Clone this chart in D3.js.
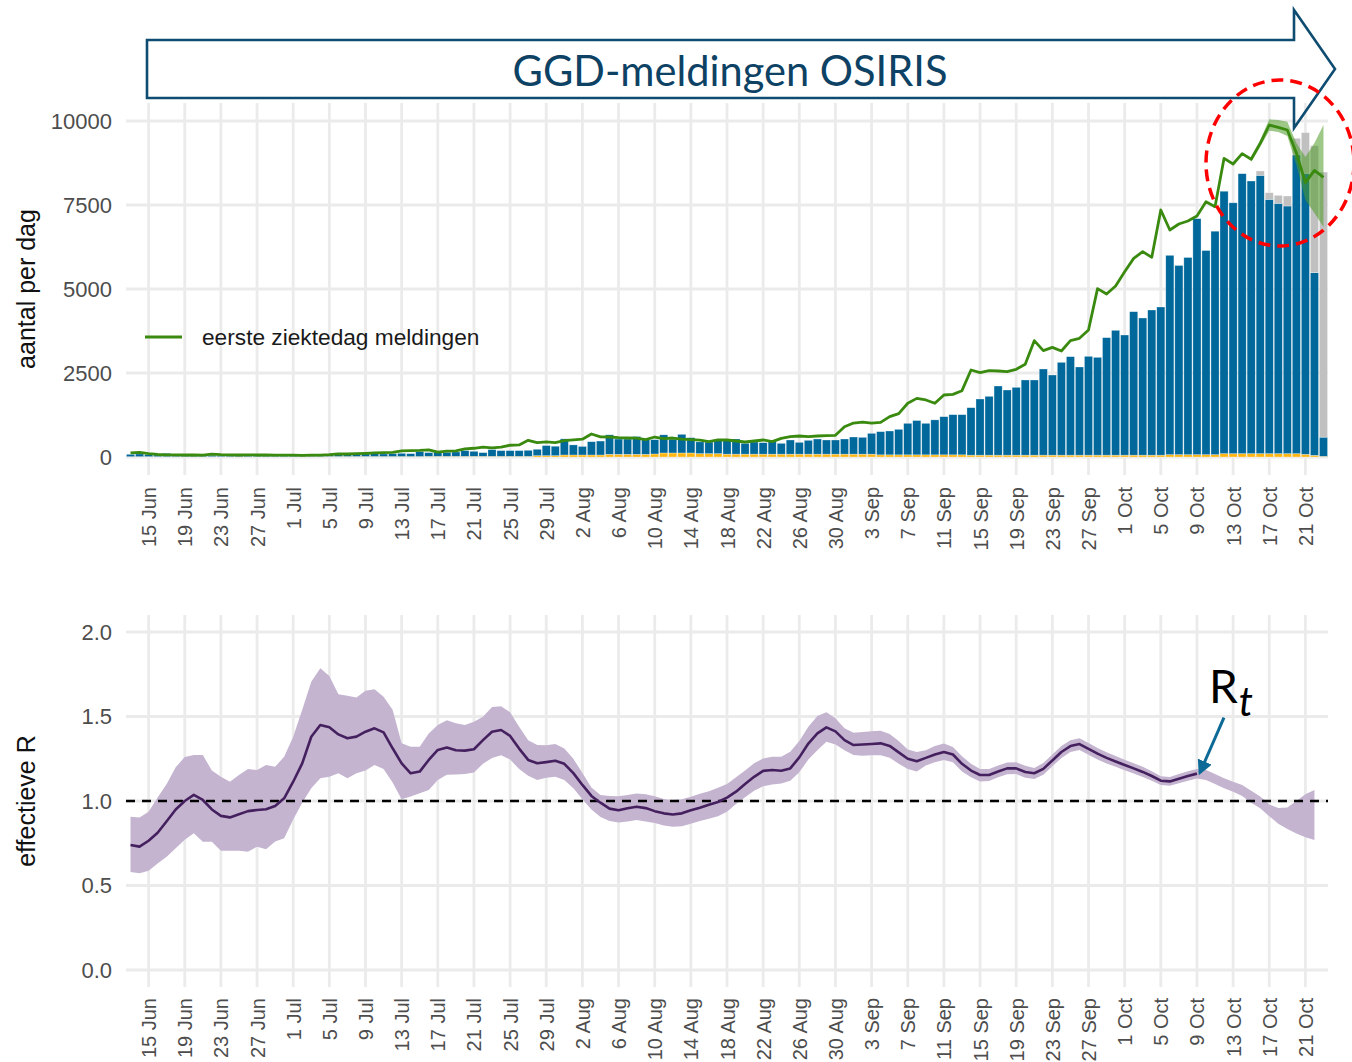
<!DOCTYPE html>
<html><head><meta charset="utf-8">
<script src="https://cdn.jsdelivr.net/npm/d3@7"></script>
<style>
html,body{margin:0;padding:0;background:#fff;}
svg{display:block;}
</style></head><body>
<svg id="chart" width="1352" height="1062"></svg>
<script>
// ---------------- DATA ----------------
const firstDay = "2020-06-13";           // first bar / first R value
const tickLabels = ["15 Jun","19 Jun","23 Jun","27 Jun","1 Jul","5 Jul","9 Jul","13 Jul","17 Jul","21 Jul","25 Jul","29 Jul","2 Aug","6 Aug","10 Aug","14 Aug","18 Aug","22 Aug","26 Aug","30 Aug","3 Sep","7 Sep","11 Sep","15 Sep","19 Sep","23 Sep","27 Sep","1 Oct","5 Oct","9 Oct","13 Oct","17 Oct","21 Oct"];
const yTicksTop = [0, 2500, 5000, 7500, 10000];
const yTicksR = [0, 0.5, 1, 1.5, 2];

// daily reported cases, 13 Jun .. 23 Oct (stacked segments)
const geel = [
 10,10,10,10,10,10,10,10,10,10,
 10,10,10,10,10,10,10,10,10,15,
 15,15,15,15,15,15,15,15,15,15,
 15,15,15,20,20,20,20,20,20,20,
 20,20,20,20,20,40,40,40,60,60,
 60,60,60,80,80,80,80,80,90,120,
 120,120,120,100,100,100,85,85,85,85,
 85,85,85,85,85,85,85,85,85,85,
 85,85,85,65,65,65,65,65,65,65,
 65,65,65,55,55,55,55,55,55,55,
 55,55,55,55,55,55,55,55,55,55,
 55,55,55,55,55,70,70,70,70,70,
 70,100,100,100,100,100,100,100,100,100,
 80,50,20];
const blauw = [
 70,80,60,50,100,40,40,40,45,40,
 35,40,35,40,35,40,30,30,30,30,
 35,45,55,65,70,75,80,85,75,85,
 95,85,145,110,130,120,130,170,150,110,
 200,170,170,170,180,190,300,280,480,300,
 255,395,415,580,455,455,530,435,425,540,
 410,555,455,350,346,406,441,451,322,361,
 341,391,322,421,351,411,451,421,421,451,
 510,500,619,689,709,758,937,1020,937,1040,
 1135,1195,1195,1413,1671,1751,2058,1939,2018,2237,
 2237,2564,2385,2762,2931,2624,2941,2911,3497,3715,
 3576,4270,4082,4320,4409,5932,5630,5868,7023,6075,
 6650,7810,7465,8332,8114,8283,7569,7450,7370,8890,
 8360,5435,570];
const grijs = [
 0,0,0,0,0,0,0,0,0,0,
 0,0,0,0,0,0,0,0,0,0,
 0,0,0,0,0,0,0,0,0,0,
 0,0,0,0,0,0,0,0,0,0,
 0,0,0,0,0,0,0,0,0,0,
 0,0,0,0,0,0,0,0,0,0,
 0,0,0,0,0,0,0,0,0,0,
 0,0,0,0,0,0,0,0,0,0,
 0,0,0,0,0,0,0,0,0,0,
 0,0,0,0,0,0,0,0,0,0,
 0,0,0,0,0,0,0,0,0,0,
 0,0,0,0,0,0,0,0,0,0,
 0,0,0,0,0,130,197,238,298,495,
 1215,3777,7890];
// eerste ziektedag meldingen (green line)
const ziektedag = [
 120,140,100,75,65,65,60,60,55,85,
 70,65,60,65,60,60,55,55,55,50,
 55,55,70,95,90,100,110,120,130,140,
 185,190,195,210,145,175,185,240,260,295,
 270,295,350,360,495,425,450,430,488,510,
 530,685,600,595,575,565,560,520,595,545,
 565,530,520,500,455,506,506,476,446,476,
 506,456,556,605,625,605,625,635,645,900,
 1010,1040,1010,1030,1200,1290,1600,1745,1697,1598,
 1845,1865,1974,2589,2510,2569,2559,2540,2609,2758,
 3462,3165,3264,3155,3462,3532,3780,5010,4851,5089,
 5516,5912,6111,5942,7351,6756,6935,7024,7173,7599,
 7450,8889,8720,9030,8860,9335,9881,9812,9732,9050,
 8164,8530,8323];
// uncertainty band of the green line, 15 Oct .. 23 Oct (last 9 days)
const bandStart = "2020-10-15";
const ziektedagLo = [8780,9226,9711,9672,9554,8700,7649,7262,6845];
const ziektedagHi = [8940,9435,10050,10030,9979,9345,8929,9345,9881];

// effective R, 13 Jun .. 22 Oct
const rMid = [
 0.74,0.73,0.765,0.812,0.88,0.95,1.0,1.036,1.006,0.95,
 0.912,0.903,0.921,0.94,0.947,0.951,0.97,1.016,1.114,1.223,
 1.38,1.45,1.436,1.394,1.371,1.381,1.41,1.43,1.406,1.312,
 1.223,1.164,1.174,1.243,1.302,1.316,1.30,1.298,1.306,1.36,
 1.41,1.42,1.385,1.31,1.243,1.223,1.23,1.238,1.22,1.165,
 1.095,1.03,0.99,0.955,0.945,0.957,0.966,0.958,0.94,0.927,
 0.92,0.927,0.945,0.96,0.978,0.994,1.02,1.055,1.10,1.143,
 1.178,1.183,1.179,1.193,1.258,1.34,1.40,1.436,1.412,1.36,
 1.331,1.334,1.337,1.341,1.326,1.288,1.25,1.235,1.255,1.275,
 1.29,1.275,1.22,1.18,1.154,1.154,1.175,1.193,1.193,1.172,
 1.164,1.19,1.24,1.29,1.325,1.337,1.308,1.28,1.255,1.234,
 1.213,1.193,1.172,1.148,1.12,1.116,1.132,1.148,1.162,null,
 null,null,null,null,null,null,null,null,null,null,
 null,null];
const rHi = [
 0.907,0.903,0.937,1.02,1.10,1.20,1.26,1.272,1.272,1.18,
 1.144,1.114,1.154,1.19,1.183,1.213,1.203,1.262,1.38,1.54,
 1.706,1.785,1.74,1.631,1.623,1.613,1.653,1.661,1.617,1.54,
 1.341,1.321,1.321,1.40,1.45,1.478,1.46,1.45,1.469,1.499,
 1.556,1.56,1.525,1.44,1.36,1.331,1.33,1.338,1.31,1.25,
 1.165,1.08,1.036,1.03,1.028,1.035,1.045,1.04,1.028,1.012,
 1.006,1.01,1.025,1.043,1.058,1.078,1.10,1.14,1.18,1.224,
 1.252,1.262,1.262,1.292,1.355,1.44,1.503,1.525,1.49,1.43,
 1.404,1.408,1.413,1.415,1.397,1.355,1.305,1.29,1.30,1.325,
 1.34,1.32,1.265,1.22,1.19,1.19,1.21,1.228,1.23,1.208,
 1.196,1.225,1.275,1.325,1.36,1.372,1.343,1.314,1.288,1.266,
 1.244,1.223,1.202,1.176,1.146,1.142,1.16,1.176,1.19,1.183,
 1.16,1.135,1.114,1.095,1.06,1.026,0.98,0.958,0.962,1.0,
 1.04,1.065];
const rLo = [
 0.58,0.572,0.588,0.63,0.67,0.72,0.77,0.809,0.759,0.759,
 0.706,0.706,0.705,0.70,0.73,0.714,0.76,0.78,0.89,0.99,
 1.075,1.134,1.144,1.164,1.134,1.164,1.18,1.213,1.19,1.11,
 1.01,1.026,1.046,1.065,1.124,1.155,1.157,1.16,1.168,1.22,
 1.255,1.27,1.245,1.19,1.15,1.125,1.138,1.143,1.125,1.075,
 1.01,0.95,0.905,0.882,0.873,0.879,0.888,0.879,0.87,0.855,
 0.847,0.85,0.865,0.882,0.895,0.91,0.937,0.982,1.022,1.06,
 1.087,1.098,1.104,1.12,1.17,1.245,1.30,1.35,1.335,1.30,
 1.272,1.268,1.27,1.27,1.256,1.22,1.19,1.175,1.21,1.23,
 1.243,1.23,1.175,1.14,1.115,1.118,1.14,1.158,1.16,1.138,
 1.13,1.155,1.205,1.255,1.29,1.302,1.273,1.246,1.222,1.202,
 1.182,1.163,1.142,1.12,1.094,1.09,1.105,1.12,1.133,1.124,
 1.10,1.075,1.055,1.03,0.99,0.957,0.91,0.865,0.835,0.808,
 0.785,0.769];

// ---------------- CHART ----------------
const FONT = "'Liberation Sans', Arial, Helvetica, sans-serif";
const svg = d3.select("#chart");
const parseISO = d3.utcParse("%Y-%m-%d");
const parseTick = d3.utcParse("%d %b %Y");
const start = parseISO(firstDay);
const days = blauw.map((_, i) => d3.utcDay.offset(start, i));
const tickDates = tickLabels.map(l => parseTick(l + " 2020"));

const x = d3.scaleUtc()
  .domain([new Date(Date.UTC(2020,5,12,12)), new Date(Date.UTC(2020,9,23,12))])
  .range([126, 1328]);
const dayW = x(d3.utcDay.offset(start,1)) - x(start);
const yTop = d3.scaleLinear().domain([0, 10000]).range([457, 121]);
const yR = d3.scaleLinear().domain([0, 2]).range([970, 632]);

const GRID = "#ebebeb";
function panel(yScale, yTicks, top, bottom, fmt, labelY) {
  const g = svg.append("g");
  g.selectAll(".vg").data(tickDates).join("line")
    .attr("x1", d => x(d)).attr("x2", d => x(d))
    .attr("y1", top).attr("y2", bottom)
    .attr("stroke", GRID).attr("stroke-width", 2.8);
  g.selectAll(".hg").data(yTicks).join("line")
    .attr("x1", x.range()[0]).attr("x2", x.range()[1])
    .attr("y1", d => yScale(d)).attr("y2", d => yScale(d))
    .attr("stroke", GRID).attr("stroke-width", 2.8);
  // y axis
  const ya = svg.append("g").attr("transform", "translate(126,0)")
    .call(d3.axisLeft(yScale).tickValues(yTicks).tickSize(0).tickPadding(14).tickFormat(fmt));
  ya.select(".domain").remove();
  ya.selectAll("text").attr("fill", "#4d4d4d").style("font-family", FONT).style("font-size", "22px");
  // x axis
  const xa = svg.append("g").attr("transform", `translate(0,${labelY})`)
    .call(d3.axisBottom(x).tickValues(tickDates).tickSize(0).tickFormat((d, i) => tickLabels[i]));
  xa.select(".domain").remove();
  xa.selectAll("text")
    .attr("x", 0).attr("y", 0).attr("dy", "0.35em")
    .attr("transform", "rotate(-90)")
    .style("text-anchor", "end")
    .attr("fill", "#4d4d4d").style("font-family", FONT).style("font-size", "20px");
  return g;
}

// ---- top panel ----
panel(yTop, yTicksTop, 103, 475, d3.format("d"), 487);

const table = days.map((d, i) => ({date: d, geel: geel[i], blauw: blauw[i], grijs: grijs[i]}));
const stackKeys = ["geel", "blauw", "grijs"];
const barColor = {geel: "#ffb612", blauw: "#01689b", grijs: "#c0c0c0"};
const stacked = d3.stack().keys(stackKeys)(table);
const bw = dayW * 0.9;
svg.append("g").selectAll("g").data(stacked).join("g")
  .attr("fill", s => barColor[s.key])
  .selectAll("rect").data(s => s.filter(d => d[1] > d[0])).join("rect")
  .attr("x", d => x(d.data.date) - bw / 2)
  .attr("width", bw)
  .attr("y", d => yTop(d[1]))
  .attr("height", d => yTop(d[0]) - yTop(d[1]))
  .attr("stroke", "#ffffff").attr("stroke-width", 0.6).attr("stroke-opacity", 0.5);

const bStart = parseISO(bandStart);
const bandData = ziektedagLo.map((lo, i) => ({date: d3.utcDay.offset(bStart, i), lo, hi: ziektedagHi[i]}));
svg.append("path").datum(bandData)
  .attr("d", d3.area().x(d => x(d.date)).y0(d => yTop(d.lo)).y1(d => yTop(d.hi)))
  .attr("fill", "#4f9a26").attr("fill-opacity", 0.55);

svg.append("path").datum(ziektedag.map((v, i) => ({date: days[i], v})))
  .attr("d", d3.line().x(d => x(d.date)).y(d => yTop(d.v)))
  .attr("fill", "none").attr("stroke", "#3a8a10").attr("stroke-width", 2.8)
  .attr("stroke-linejoin", "round");

// legend
svg.append("line").attr("x1", 145).attr("x2", 182).attr("y1", 337).attr("y2", 337)
  .attr("stroke", "#3a8a10").attr("stroke-width", 3);
svg.append("text").attr("x", 202).attr("y", 345).text("eerste ziektedag meldingen")
  .attr("fill", "#1a1a1a").style("font-family", FONT).style("font-size", "22.7px");

svg.append("text").attr("transform", "translate(35,289) rotate(-90)")
  .attr("text-anchor", "middle").text("aantal per dag")
  .attr("fill", "#111").style("font-family", FONT).style("font-size", "25px");

// ---- bottom panel ----
panel(yR, yTicksR, 615, 987, d3.format(".1f"), 998);

const rData = rLo.map((lo, i) => ({date: d3.utcDay.offset(start, i), lo, hi: rHi[i], m: rMid[i]}));
svg.append("path").datum(rData)
  .attr("d", d3.area().x(d => x(d.date)).y0(d => yR(d.lo)).y1(d => yR(d.hi)))
  .attr("fill", "#c4b4d0");
svg.append("line")
  .attr("x1", x.range()[0]).attr("x2", x.range()[1])
  .attr("y1", yR(1)).attr("y2", yR(1))
  .attr("stroke", "#000").attr("stroke-width", 2.3).attr("stroke-dasharray", "9,7");
svg.append("path").datum(rData.filter(d => d.m != null))
  .attr("d", d3.line().x(d => x(d.date)).y(d => yR(d.m)))
  .attr("fill", "none").attr("stroke", "#45205f").attr("stroke-width", 2.6)
  .attr("stroke-linejoin", "round");

svg.append("text").attr("transform", "translate(35,801) rotate(-90)")
  .attr("text-anchor", "middle").text("effectieve R")
  .attr("fill", "#111").style("font-family", FONT).style("font-size", "25px");

// ---- annotations ----
const defs = svg.append("defs");
defs.append("marker").attr("id", "ah").attr("viewBox", "0 0 10 10")
  .attr("refX", 8).attr("refY", 5).attr("markerWidth", 5).attr("markerHeight", 5)
  .attr("orient", "auto-start-reverse")
  .append("path").attr("d", "M0,0 L10,5 L0,10 Z").attr("fill", "#0d6a97");

const lastR = rData.filter(d => d.m != null).slice(-1)[0];
const tipX = x(lastR.date) + 3, tipY = yR(lastR.m) - 1;
svg.append("line").attr("x1", tipX + 24).attr("y1", tipY - 55).attr("x2", tipX).attr("y2", tipY)
  .attr("stroke", "#0d6a97").attr("stroke-width", 3).attr("marker-end", "url(#ah)");
const rt = svg.append("text").attr("x", 1209).attr("y", 703)
  .style("font-family", "Lato, 'Open Sans', sans-serif").attr("fill", "#000");
rt.append("tspan").text("R").style("font-size", "46px");
rt.append("tspan").text("t").attr("dy", 13).attr("dx", 1).style("font-size", "40px").style("font-style", "italic");

// title arrow
const arrow = d3.path();
arrow.moveTo(147, 40); arrow.lineTo(1294, 40); arrow.lineTo(1294, 10);
arrow.lineTo(1335, 69); arrow.lineTo(1294, 128); arrow.lineTo(1294, 98);
arrow.lineTo(147, 98); arrow.closePath();
svg.append("path").attr("d", arrow.toString()).attr("fill", "none")
  .attr("stroke", "#0f4c72").attr("stroke-width", 2.6).attr("stroke-linejoin", "miter");
const title = svg.append("text").attr("x", 730).attr("y", 86).attr("text-anchor", "middle")
  .text("GGD-meldingen OSIRIS").attr("fill", "#0d4264")
  .style("font-family", "Lato, 'Open Sans', sans-serif").style("font-size", "44px");
const tw = title.node().getComputedTextLength();
title.style("font-size", (44 * 435 / tw) + "px");

// red dashed circle
svg.append("ellipse").attr("cx", 1280).attr("cy", 163).attr("rx", 74).attr("ry", 83)
  .attr("fill", "none").attr("stroke", "#ff0000").attr("stroke-width", 3.5)
  .attr("stroke-dasharray", "12,7");
</script>
</body></html>
